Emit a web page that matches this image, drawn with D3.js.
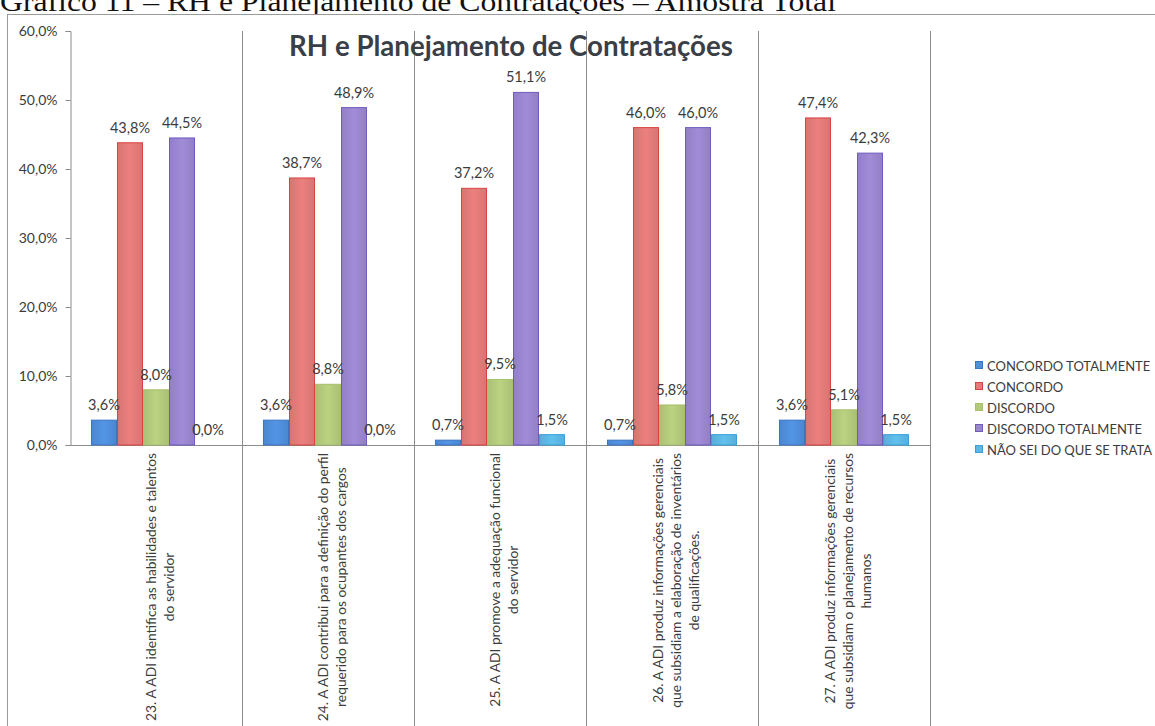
<!DOCTYPE html>
<html>
<head>
<meta charset="utf-8">
<script src="https://cdn.jsdelivr.net/npm/d3@7"></script>
<style>
  html, body { margin: 0; padding: 0; background: #fff; }
  svg { display: block; }
</style>
</head>
<body>
<svg id="chart" width="1155" height="726"></svg>
<script>
// Survey statements (category axis), each split into its wrapped lines
const categories = [
  ["23. A ADI identifica as habilidades e talentos", "do servidor"],
  ["24. A ADI contribui para a definição do perfil", "requerido para os ocupantes dos cargos"],
  ["25. A ADI  promove a adequação funcional", "do servidor"],
  ["26. A ADI produz informações gerenciais", "que subsidiam a elaboração de inventários", "de qualificações."],
  ["27. A ADI produz informações gerenciais", "que subsidiam o planejamento de recursos", "humanos"]
];

// Answer options (series)
const seriesNames = [
  "CONCORDO TOTALMENTE",
  "CONCORDO",
  "DISCORDO",
  "DISCORDO TOTALMENTE",
  "NÃO SEI DO QUE SE TRATA"
];

// Share of answers per series, one value per statement
const concordoTotalmente  = [0.036, 0.036, 0.007, 0.007, 0.036];
const concordo            = [0.438, 0.387, 0.372, 0.460, 0.474];
const discordo            = [0.080, 0.088, 0.095, 0.058, 0.051];
const discordoTotalmente  = [0.445, 0.489, 0.511, 0.460, 0.423];
const naoSei              = [0.000, 0.000, 0.015, 0.015, 0.015];

const yTicks = [0, 0.1, 0.2, 0.3, 0.4, 0.5, 0.6];

const seriesValues = [concordoTotalmente, concordo, discordo, discordoTotalmente, naoSei];
const fills   = ["#4f8edb", "#e27b79", "#b3ca7c", "#9a86cf", "#5db8e4"];
const strokes = ["#3a73c2", "#d9423f", "#a6c06a", "#6f5bc0", "#3aa0d6"];

const ptBR = d3.formatLocale({ decimal: ",", thousands: ".", grouping: [3], currency: ["R$", ""] });
const pct = ptBR.format(".1%");

const svg = d3.select("#chart");
const font = "Lato, 'Open Sans', sans-serif";
const textColor = "#3c3c3c";

// Document caption above the chart frame
svg.append("text")
  .attr("x", 0).attr("y", 11)
  .attr("font-family", "'Liberation Serif', 'Times New Roman', serif")
  .attr("font-size", 27)
  .attr("fill", "#111")
  .attr("textLength", 836)
  .attr("lengthAdjust", "spacingAndGlyphs")
  .text("Gráfico 11 – RH e Planejamento de Contratações – Amostra Total");

// Chart frame
svg.append("rect")
  .attr("x", 7.5).attr("y", 14.5)
  .attr("width", 1160).attr("height", 730)
  .attr("fill", "#fff").attr("stroke", "#9a9a9a");

const plot = { left: 70, right: 930, top: 31, bottom: 445 };

const x0 = d3.scaleBand()
  .domain(d3.range(categories.length))
  .range([plot.left, plot.right])
  .paddingInner(0).paddingOuter(0);

const bw = x0.bandwidth();
const x1 = d3.scaleBand()
  .domain(d3.range(seriesNames.length))
  .range([bw * 0.122, bw * 0.878])
  .paddingInner(0);

const y = d3.scaleLinear().domain([0, 0.6]).range([plot.bottom, plot.top]);

// Category separators, running down through the label area
svg.append("g").selectAll("line")
  .data(d3.range(1, categories.length + 1))
  .join("line")
  .attr("x1", d => Math.round(x0(d - 1) + bw) + 0.5)
  .attr("x2", d => Math.round(x0(d - 1) + bw) + 0.5)
  .attr("y1", plot.top).attr("y2", 726)
  .attr("stroke", "#8c8c8c").attr("stroke-width", 1);

// Value axis
const yAxis = svg.append("g")
  .attr("transform", `translate(${plot.left + 0.5},0)`)
  .call(d3.axisLeft(y).tickValues(yTicks).tickFormat(pct).tickSize(5).tickPadding(8));
yAxis.select(".domain").attr("stroke", "#8c8c8c");
yAxis.selectAll(".tick line").attr("stroke", "#8c8c8c");
yAxis.selectAll(".tick text")
  .attr("font-family", font).attr("font-size", 14).attr("fill", textColor);

// Category axis baseline
svg.append("line")
  .attr("x1", plot.left).attr("x2", plot.right)
  .attr("y1", plot.bottom + 0.5).attr("y2", plot.bottom + 0.5)
  .attr("stroke", "#8c8c8c");

// Bar gradients
const defs = svg.append("defs");
fills.forEach((c, i) => {
  const g = defs.append("linearGradient").attr("id", "grad" + i)
    .attr("x1", "0").attr("x2", "1").attr("y1", "0").attr("y2", "0");
  g.append("stop").attr("offset", "0%").attr("stop-color", d3.color(c).darker(0.15));
  g.append("stop").attr("offset", "50%").attr("stop-color", d3.color(c).brighter(0.12));
  g.append("stop").attr("offset", "100%").attr("stop-color", d3.color(c).darker(0.15));
});

const rows = [];
seriesValues.forEach((vals, s) => vals.forEach((v, c) => rows.push({ s, c, v })));

svg.append("g").selectAll("rect")
  .data(rows.filter(d => d.v > 0))
  .join("rect")
  .attr("x", d => x0(d.c) + x1(d.s) + 0.5)
  .attr("y", d => y(d.v))
  .attr("width", x1.bandwidth() - 1)
  .attr("height", d => y(0) - y(d.v))
  .attr("fill", d => `url(#grad${d.s})`)
  .attr("stroke", d => strokes[d.s]).attr("stroke-width", 1);

// Data labels
svg.append("g").selectAll("text")
  .data(rows)
  .join("text")
  .attr("x", d => x0(d.c) + x1(d.s) + x1.bandwidth() / 2)
  .attr("y", d => y(d.v) - 10)
  .attr("text-anchor", "middle")
  .attr("font-family", font).attr("font-size", 14.5).attr("fill", textColor)
  .text(d => pct(d.v));

// Chart title, sized to span the width it takes in the layout
const title = svg.append("text")
  .attr("x", 511).attr("y", 56)
  .attr("text-anchor", "middle")
  .attr("font-family", font).attr("font-size", 24).attr("font-weight", "bold")
  .attr("fill", "#3a3f47")
  .text("RH e Planejamento de Contratações");
const tw = title.node().getComputedTextLength();
title.attr("font-size", 24 * 444 / tw);

// Rotated category labels
const lineH = 18;
const catG = svg.append("g");
categories.forEach((lines, c) => {
  const cx = x0(c) + bw / 2 + 4;
  const g = catG.append("g");
  const t = g.append("text")
    .attr("font-family", font).attr("font-size", 13.8).attr("fill", textColor)
    .attr("text-anchor", "middle");
  lines.forEach((ln, i) => {
    t.append("tspan")
      .attr("x", 0)
      .attr("y", (i - (lines.length - 1) / 2) * lineH + 4.5)
      .text(ln);
  });
  const w = d3.max(t.selectAll("tspan").nodes(), n => n.getComputedTextLength());
  const cy = plot.bottom + 8 + w / 2;
  g.attr("transform", `translate(${cx},${cy}) rotate(-90)`);
});

// Legend
const legend = svg.append("g").attr("transform", "translate(975,366)");
seriesNames.forEach((name, i) => {
  const row = legend.append("g").attr("transform", `translate(0,${i * 21})`);
  row.append("rect")
    .attr("x", 0.5).attr("y", -4.5).attr("width", 7).attr("height", 7)
    .attr("fill", fills[i]).attr("stroke", strokes[i]);
  row.append("text")
    .attr("x", 12).attr("y", 5)
    .attr("font-family", font).attr("font-size", 13).attr("fill", textColor)
    .text(name);
});
</script>
</body>
</html>
